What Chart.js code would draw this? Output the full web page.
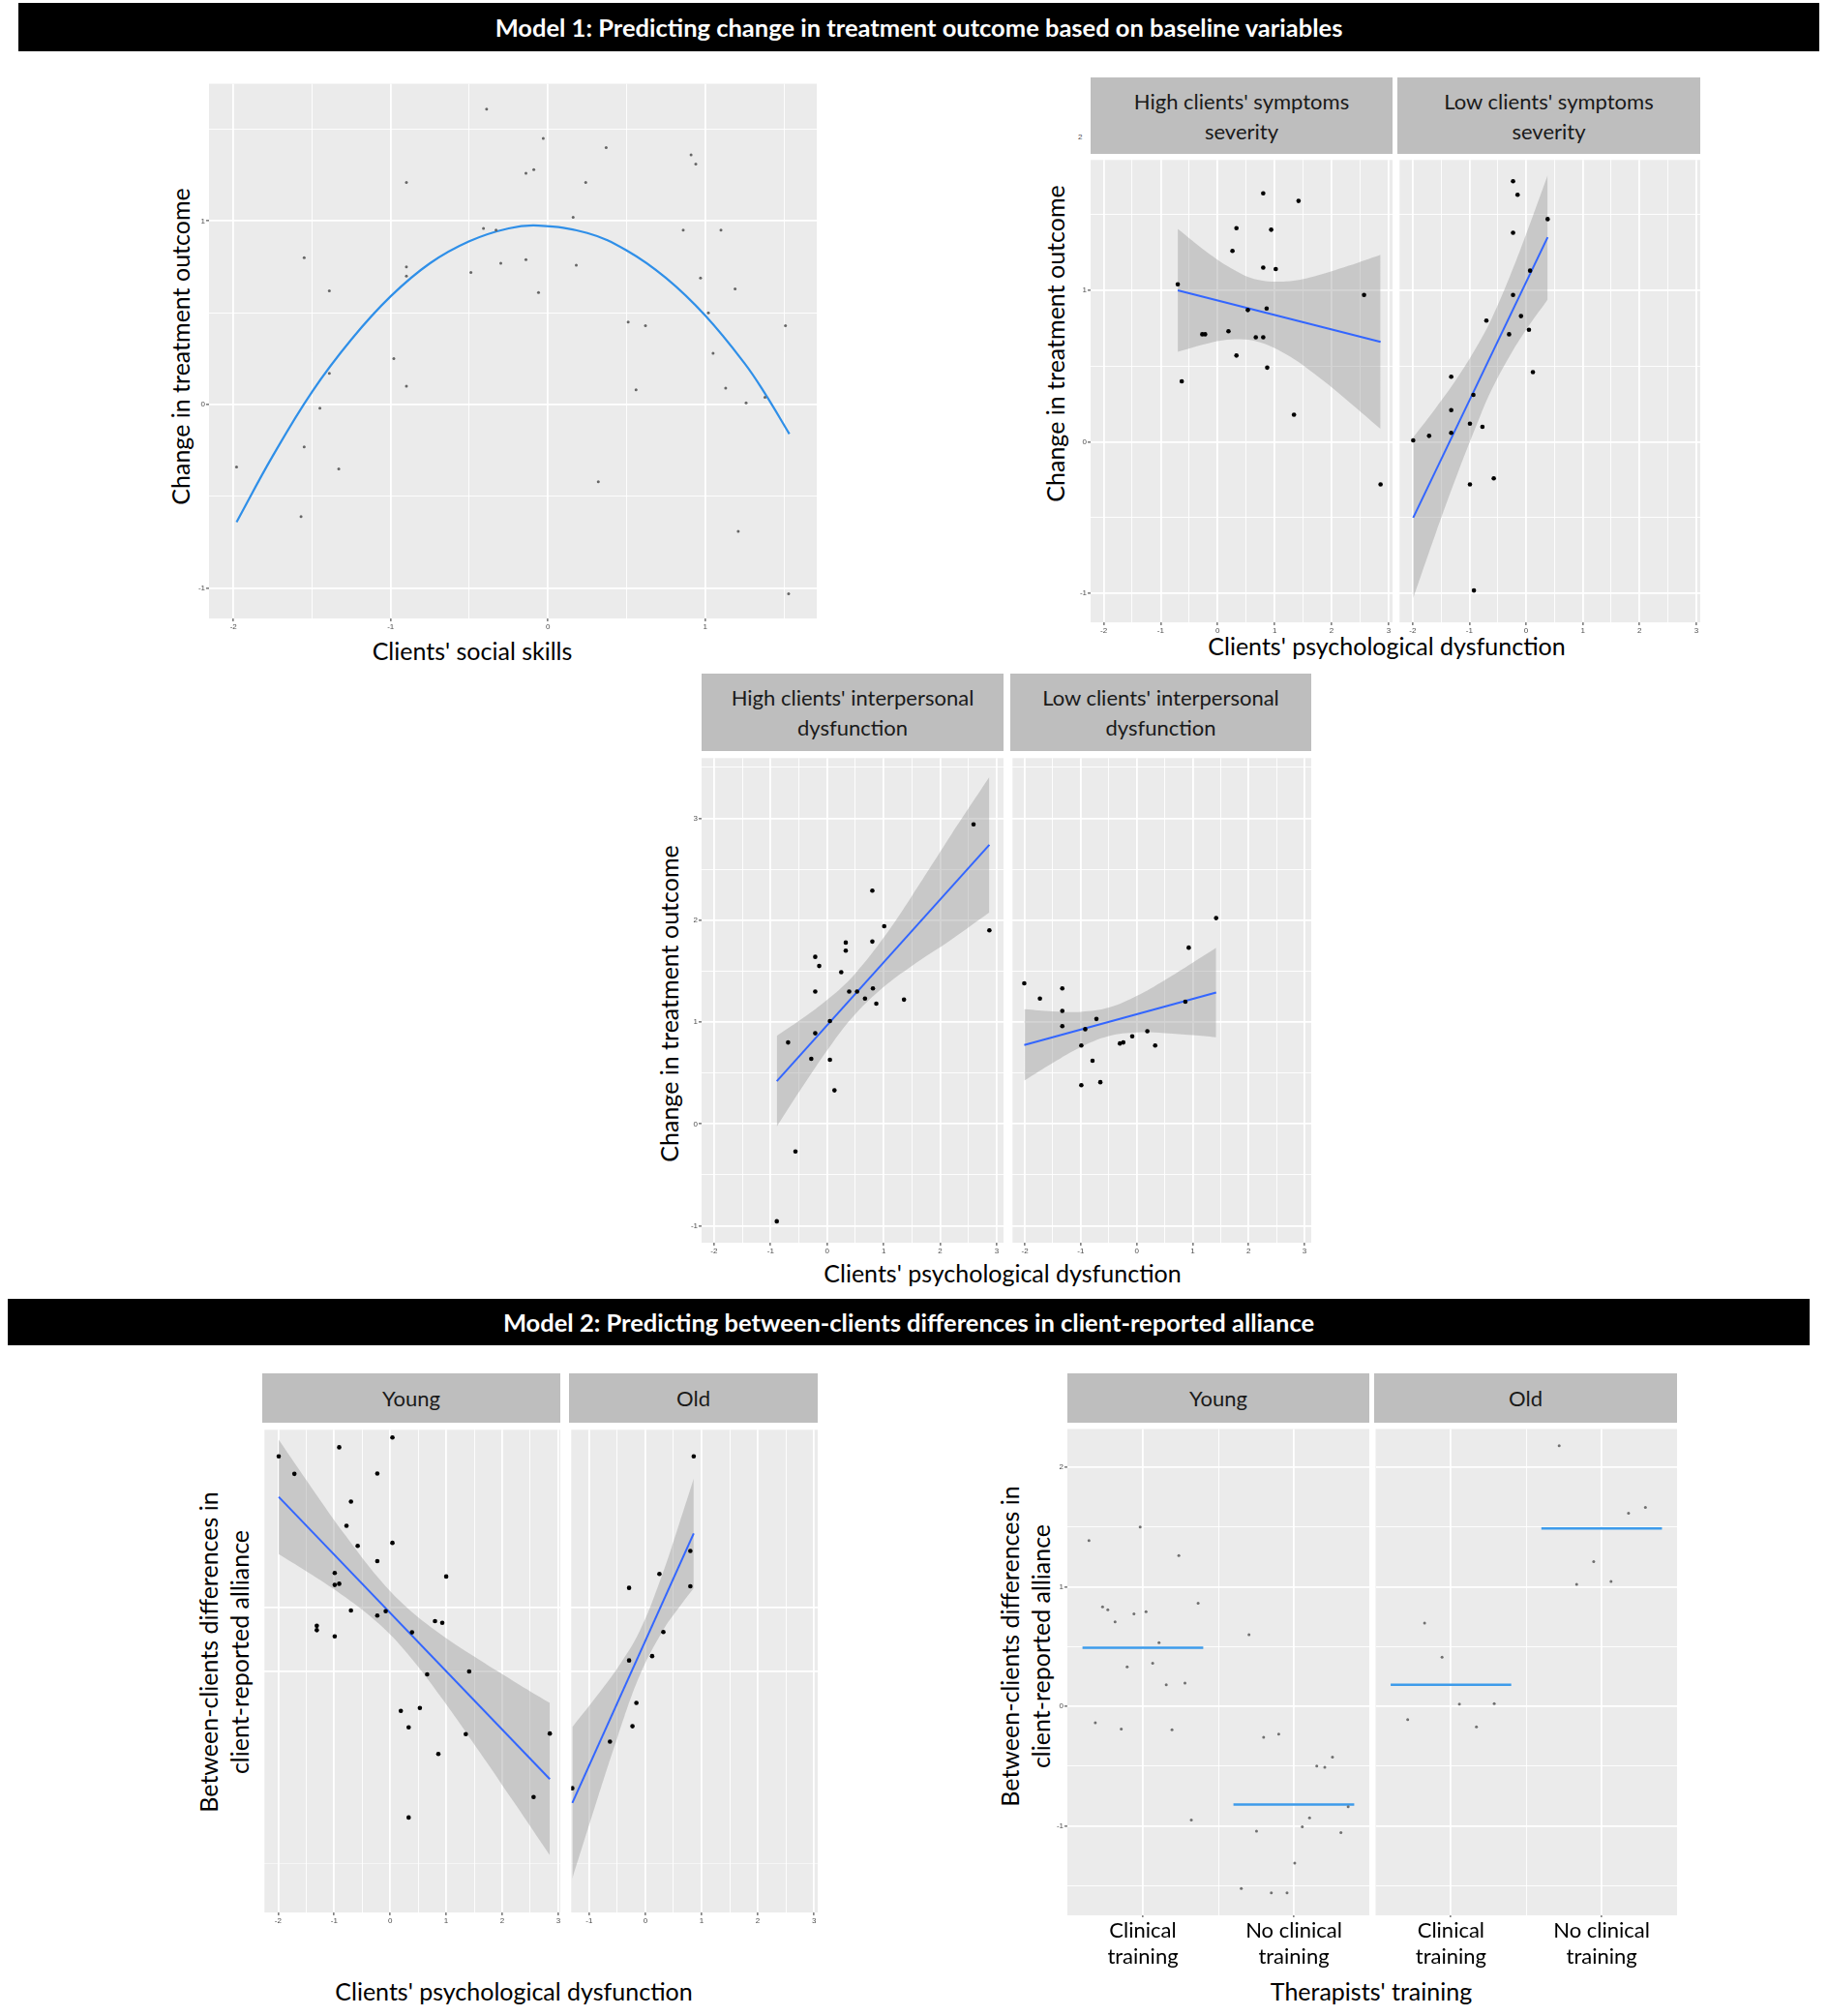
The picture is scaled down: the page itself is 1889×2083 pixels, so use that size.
<!DOCTYPE html>
<html>
<head>
<meta charset="utf-8">
<script src="https://cdn.jsdelivr.net/npm/chart.js@4.4.1/dist/chart.umd.min.js"></script>
<style>
  html,body{margin:0;padding:0;background:#ffffff;}
  body{position:relative;width:1889px;height:2083px;overflow:hidden;font-family:Lato,"Open Sans",sans-serif;color:#000;}
  .hdr{position:absolute;background:#000;color:#fff;font-weight:bold;font-size:25.5px;display:flex;align-items:center;justify-content:center;white-space:nowrap;}
  .strip{position:absolute;background:#bebebe;color:#1a1a1a;font-size:22px;line-height:31px;display:flex;align-items:center;justify-content:center;text-align:center;}
  .ttl{position:absolute;font-size:25px;line-height:32px;white-space:nowrap;text-align:center;transform:translate(-50%,-50%);}
  .ttl.rot{transform:translate(-50%,-50%) rotate(-90deg);}
  .tiny{position:absolute;font-family:"Liberation Sans",Arial,sans-serif;font-size:8px;color:#4d4d4d;}
  canvas{position:absolute;}
</style>
</head>
<body>
<div class="hdr" style="left:19px;top:3px;width:1861px;height:50px;">Model 1: Predicting change in treatment outcome based on baseline variables</div>
<div class="hdr" style="left:8px;top:1342px;width:1862px;height:48px;">Model 2: Predicting between-clients differences in client-reported alliance</div>

<div class="strip" style="left:1127px;top:80px;width:312px;height:79px;">High clients' symptoms<br>severity</div>
<div class="strip" style="left:1444px;top:80px;width:313px;height:79px;">Low clients' symptoms<br>severity</div>
<div class="strip" style="left:725px;top:696px;width:312px;height:80px;">High clients' interpersonal<br>dysfunction</div>
<div class="strip" style="left:1044px;top:696px;width:311px;height:80px;">Low clients' interpersonal<br>dysfunction</div>
<div class="strip" style="left:271px;top:1419px;width:308px;height:51px;">Young</div>
<div class="strip" style="left:588px;top:1419px;width:257px;height:51px;">Old</div>
<div class="strip" style="left:1103px;top:1419px;width:312px;height:51px;">Young</div>
<div class="strip" style="left:1420px;top:1419px;width:313px;height:51px;">Old</div>

<div class="ttl rot" style="left:186px;top:358px;">Change in treatment outcome</div>
<div class="ttl" style="left:488px;top:672px;">Clients' social skills</div>
<div class="ttl rot" style="left:1090px;top:355px;">Change in treatment outcome</div>
<div class="ttl" style="left:1433px;top:667px;">Clients' psychological dysfunction</div>
<div class="ttl rot" style="left:691px;top:1037px;">Change in treatment outcome</div>
<div class="ttl" style="left:1036px;top:1315px;">Clients' psychological dysfunction</div>
<div class="ttl rot" style="left:231px;top:1707px;">Between-clients differences in<br>client-reported alliance</div>
<div class="ttl" style="left:531px;top:2057px;">Clients' psychological dysfunction</div>
<div class="ttl rot" style="left:1059px;top:1701px;">Between-clients differences in<br>client-reported alliance</div>
<div class="ttl" style="left:1417px;top:2057px;">Therapists' training</div>
<div class="tiny" style="left:1114px;top:137px;">2</div>

<script>
// ---------------- DATA ----------------
// Panel A: social skills vs change in outcome
const aX = [-0.39,-0.03,0.37,0.91,0.94,-0.09,-0.14,-0.90,0.24,0.16,-0.41,-0.33,0.86,1.10,-1.55,-0.30,-0.14,0.18,-0.90,-0.90,-0.49,0.97,-1.39,-0.06,1.19,1.02,0.51,0.62,1.51,-0.98,1.05,-1.39,-0.90,0.56,1.13,1.26,1.38,-1.45,-1.55,-1.98,-1.33,0.32,-1.57,1.21,1.53];
const aY = [1.61,1.45,1.40,1.36,1.31,1.28,1.26,1.21,1.21,1.02,0.96,0.95,0.95,0.95,0.80,0.77,0.79,0.76,0.75,0.70,0.72,0.69,0.62,0.61,0.63,0.50,0.45,0.43,0.43,0.25,0.28,0.17,0.10,0.08,0.09,0.01,0.04,-0.02,-0.23,-0.34,-0.35,-0.42,-0.61,-0.69,-1.03];
const aFitX = [-1.98,-1.75,-1.5,-1.25,-1.0,-0.75,-0.5,-0.25,-0.06,0.25,0.5,0.75,1.0,1.25,1.38,1.535];
const aFitY = [-0.64,-0.28,0.07,0.355,0.59,0.77,0.89,0.96,0.975,0.935,0.84,0.69,0.485,0.225,0.06,-0.16];

// Panel B: psychological dysfunction by symptom severity
const b1X = [-0.70,-0.63,-0.27,-0.22,0.19,0.26,0.33,0.33,0.53,0.67,0.80,0.80,0.80,0.86,0.87,0.94,1.02,1.34,1.42,2.57,2.86];
const b1Y = [1.04,0.40,0.71,0.71,0.73,1.26,1.41,0.57,0.87,0.69,1.64,1.15,0.69,0.88,0.49,1.40,1.14,0.18,1.59,0.97,-0.28];
const b1FitX = [-0.70,2.86], b1FitY = [1.00,0.66];
const b1BandX = [-0.7,-0.2,0.3,0.7,1.2,1.7,2.3,2.86];
const b1Up = [1.405,1.256,1.133,1.071,1.059,1.093,1.162,1.235];
const b1Lo = [0.595,0.648,0.677,0.661,0.579,0.449,0.266,0.085];

const b2X = [-1.99,-1.71,-1.32,-1.32,-1.32,-0.99,-0.99,-0.93,-0.92,-0.77,-0.70,-0.57,-0.30,-0.23,-0.23,-0.23,-0.15,-0.09,0.05,0.07,0.12,0.38];
const b2Y = [0.01,0.04,0.43,0.21,0.06,0.12,-0.28,0.31,-0.98,0.10,0.80,-0.24,0.71,1.72,1.38,0.97,1.63,0.83,0.74,1.13,0.46,1.47];
const b2FitX = [-1.99,0.38], b2FitY = [-0.50,1.35];
const b2BandX = [-1.99,-1.6,-1.2,-0.8,-0.6,-0.3,0.0,0.38];
const b2Up = [0.03,0.22,0.43,0.675,0.82,1.08,1.37,1.76];
const b2Lo = [-1.03,-0.61,-0.20,0.18,0.35,0.56,0.74,0.94];

// Panel C: psychological dysfunction by interpersonal dysfunction
const c1X = [-0.89,-0.69,-0.56,-0.28,-0.21,-0.21,-0.21,-0.14,0.05,0.05,0.13,0.25,0.33,0.33,0.39,0.53,0.67,0.80,0.80,0.81,0.87,1.01,1.36,2.59,2.87];
const c1Y = [-0.955,0.80,-0.27,0.64,1.64,1.30,0.89,1.55,1.01,0.63,0.33,1.49,1.78,1.70,1.30,1.30,1.23,2.29,1.79,1.33,1.18,1.94,1.22,2.94,1.90];
const c1FitX = [-0.89,2.87], c1FitY = [0.42,2.74];
const c1BandX = [-0.89,-0.4,0.1,0.5,1.0,1.5,2.2,2.87];
const c1Up = [0.865,1.049,1.263,1.478,1.828,2.238,2.843,3.405];
const c1Lo = [-0.025,0.395,0.799,1.078,1.344,1.552,1.811,2.075];

const c2X = [-2.01,-1.73,-1.33,-1.33,-1.33,-0.99,-0.99,-0.92,-0.79,-0.72,-0.65,-0.30,-0.24,-0.08,0.19,0.33,0.87,0.93,1.42];
const c2Y = [1.38,1.23,1.33,1.11,0.96,0.77,0.38,0.93,0.62,1.03,0.41,0.79,0.80,0.86,0.91,0.77,1.20,1.73,2.02];
const c2FitX = [-2.01,1.42], c2FitY = [0.775,1.29];
const c2BandX = [-2.01,-1.5,-1.0,-0.5,0.0,0.5,1.0,1.42];
const c2Up = [1.125,1.105,1.101,1.142,1.256,1.412,1.583,1.73];
const c2Lo = [0.425,0.599,0.753,0.862,0.898,0.892,0.871,0.85];

// Panel D: alliance vs psychological dysfunction by age
const d1X = [-1.99,-1.71,-0.91,0.04,-0.23,-0.70,-0.78,-0.58,0.04,-0.23,-0.99,-0.99,-0.91,1.0,-0.70,-0.23,-0.08,-1.31,-1.31,-0.99,0.80,0.93,0.39,1.41,0.66,0.19,0.53,0.33,1.35,2.85,0.86,2.56,0.33];
const d1Y = [1.683,1.546,1.754,1.831,1.549,1.329,1.14,0.983,1.006,0.863,0.771,0.677,0.686,0.743,0.477,0.437,0.471,0.357,0.323,0.274,0.394,0.38,0.306,0.0,-0.023,-0.309,-0.286,-0.437,-0.491,-0.486,-0.646,-0.983,-1.143];
const d1FitX = [-1.99,2.85], d1FitY = [1.366,-0.843];
const d1BandX = [-1.99,-1.4,-0.8,-0.2,0.3,0.9,1.6,2.2,2.85];
const d1Up = [1.813,1.436,1.065,0.726,0.499,0.291,0.088,-0.075,-0.247];
const d1Lo = [0.919,0.758,0.581,0.372,0.143,-0.197,-0.632,-1.017,-1.439];

const d2X = [0.86,0.80,0.80,0.25,-0.29,0.32,0.12,-0.29,-0.16,-0.23,-0.63,-1.30];
const d2Y = [1.683,0.943,0.666,0.763,0.654,0.309,0.12,0.086,-0.246,-0.429,-0.549,-0.914];
const d2FitX = [-1.30,0.86], d2FitY = [-1.029,1.08];
const d2BandX = [-1.3,-0.9,-0.5,-0.1,0.3,0.6,0.86];
const d2Up = [-0.436,-0.213,0.024,0.317,0.757,1.153,1.509];
const d2Lo = [-1.622,-1.063,-0.52,-0.031,0.311,0.501,0.651];

// Panel E: alliance by therapists' training and age (x = jittered category position)
const trainingCats = [["Clinical","training"],["No clinical","training"]];
const e1X = [0.643,0.982,1.238,1.366,0.733,0.768,0.816,0.941,1.021,1.107,0.896,1.065,1.155,1.279,0.685,0.857,1.193,1.321,
             1.703,1.80,1.90,2.152,2.205,2.256,2.36,2.104,2.056,1.753,2.312,2.006,1.652,1.851,1.955];
const e1Y = [1.387,1.50,1.26,0.863,0.832,0.807,0.706,0.773,0.792,0.533,0.33,0.36,0.18,0.194,-0.139,-0.191,-0.197,-0.952,
             0.598,-0.259,-0.234,-0.50,-0.51,-0.425,-0.84,-0.934,-1.008,-1.045,-1.057,-1.313,-1.525,-1.562,-1.562];
const e1Means = [0.49,-0.823];
const e2X = [0.825,0.941,1.056,1.287,0.713,1.169, 1.718,2.29,2.178,1.947,1.834,2.062];
const e2Y = [0.696,0.41,0.018,0.022,-0.111,-0.173, 2.18,1.664,1.615,1.211,1.02,1.045];
const e2Means = [0.18,1.488];

// Tick sets
const ticksA_x = [-2,-1.5,-1,-0.5,0,0.5,1,1.5];
const ticksA_y = [-1,-0.5,0,0.5,1,1.5];
const ticksPD_x = [-2,-1.5,-1,-0.5,0,0.5,1,1.5,2,2.5,3];
const ticksB_y = [-1,-0.5,0,0.5,1,1.5];
const ticksC_y = [-1,-0.5,0,0.5,1,1.5,2,2.5,3,3.5];
const ticksD_y = [-1.5,0,0.5];
const ticksE_x = [1,1.5,2];
const ticksE_y = [-1.5,-1,-0.5,0,0.5,1,1.5,2];

// ---------------- RENDERING ----------------
const PANEL_BG = '#EBEBEB';
const BAND = 'rgba(153,153,153,0.42)';
const FIT = '#3366FF';
const bgPlugin = {id:'panelbg', beforeDraw(c){const a=c.chartArea,x=c.ctx;x.save();x.fillStyle=PANEL_BG;x.fillRect(a.left,a.top,a.right-a.left,a.bottom-a.top);x.restore();}};
const isInt = v => Math.abs(v-Math.round(v))<1e-6;
const fmtNum = v => (v<0?'-':'')+Math.abs(Math.round(v));

function scale(axis, min, max, ticks, opt){
  opt = opt || {};
  const major = opt.major || isInt;
  const labels = opt.labels !== false;
  const size = opt.size;
  return {
    type:'linear', min, max, position: axis==='x'?'bottom':'left',
    afterBuildTicks: s => { s.ticks = ticks.map(v=>({value:v})); },
    afterFit: s => {
      if(axis==='x'){ s.height=size; s.paddingLeft=0; s.paddingRight=0; }
      else { s.width=size; s.paddingTop=0; s.paddingBottom=0; }
    },
    grid:{
      color: c => (opt.faint && opt.faint(c.tick.value)) ? 'rgba(255,255,255,0.55)' : '#FFFFFF',
      lineWidth: c => major(c.tick.value) ? 1.8 : 0.9,
      drawTicks:true, tickLength: opt.tickLength || 3, tickWidth:1,
      tickColor: c => (labels && major(c.tick.value)) ? '#333333' : 'rgba(0,0,0,0)'
    },
    border:{display:false},
    ticks:{
      autoSkip:false, maxRotation:0, minRotation:0, padding: opt.padding!=null?opt.padding:1,
      color: opt.color || '#4D4D4D',
      font: opt.font || {size:8, family:'"Liberation Sans", Arial, sans-serif'},
      callback: opt.callback || (v => (labels && major(v)) ? fmtNum(v) : '')
    }
  };
}

function xy(xs, ys){ return xs.map((x,i)=>({x:x, y:ys[i]})); }
function pointsDS(xs, ys, color, r){
  return {data:xy(xs,ys), showLine:false, pointRadius:r, pointHoverRadius:r, pointBackgroundColor:color, pointBorderWidth:0, pointBorderColor:'rgba(0,0,0,0)', borderColor:'rgba(0,0,0,0)', order:0};
}
function bandDS(xs, up, lo){
  return [
    {data:xy(xs,up), borderWidth:0, borderColor:'rgba(0,0,0,0)', pointRadius:0, fill:'+1', backgroundColor:BAND, tension:0.4, order:3},
    {data:xy(xs,lo), borderWidth:0, borderColor:'rgba(0,0,0,0)', pointRadius:0, fill:false, tension:0.4, order:3}
  ];
}
function lineDS(xs, ys, color, w, t){
  return {data:xy(xs,ys), borderColor:color, borderWidth:w, pointRadius:0, fill:false, tension:t||0, order:1};
}

function facet(box, yW, xH, xs, ys, datasets){
  const padR = 6;
  const cv = document.createElement('canvas');
  const w = box[2]+yW+padR, h = box[3]+xH;
  cv.width = w; cv.height = h;
  cv.style.left = (box[0]-yW)+'px'; cv.style.top = box[1]+'px';
  cv.style.width = w+'px'; cv.style.height = h+'px';
  document.body.appendChild(cv);
  new Chart(cv, {
    type:'line',
    data:{datasets:datasets},
    options:{
      responsive:false, animation:false, events:[],
      layout:{padding:{left:0,top:0,right:padR,bottom:0}},
      plugins:{legend:{display:false}, tooltip:{enabled:false}},
      scales:{x:xs, y:ys}
    },
    plugins:[bgPlugin]
  });
}

// Panel A
facet([216,85,628,554], 18, 16,
  scale('x',-2.155,1.709,ticksA_x,{size:16}),
  scale('y',-1.165,1.748,ticksA_y,{size:18}),
  [lineDS(aFitX,aFitY,'#2F8FE8',2.2,0.4), pointsDS(aX,aY,'#666666',1.5)]);

// Panel B
facet([1127,163,312,480], 18, 16,
  scale('x',-2.23,3.07,ticksPD_x,{size:16}),
  scale('y',-1.19,1.86,ticksB_y,{size:18}),
  [...bandDS(b1BandX,b1Up,b1Lo), lineDS(b1FitX,b1FitY,FIT,2), pointsDS(b1X,b1Y,'#000000',2.3)]);
facet([1444,163,313,480], 0, 16,
  scale('x',-2.23,3.07,ticksPD_x,{size:16}),
  scale('y',-1.19,1.86,ticksB_y,{size:0,labels:false}),
  [...bandDS(b2BandX,b2Up,b2Lo), lineDS(b2FitX,b2FitY,FIT,2), pointsDS(b2X,b2Y,'#000000',2.3)]);

// Panel C
facet([725,781,312,503], 18, 16,
  scale('x',-2.22,3.12,ticksPD_x,{size:16}),
  scale('y',-1.165,3.59,ticksC_y,{size:18}),
  [...bandDS(c1BandX,c1Up,c1Lo), lineDS(c1FitX,c1FitY,FIT,2), pointsDS(c1X,c1Y,'#000000',2.3)]);
facet([1044,781,311,503], 0, 16,
  scale('x',-2.22,3.12,ticksPD_x,{size:16}),
  scale('y',-1.165,3.59,ticksC_y,{size:0,labels:false}),
  [...bandDS(c2BandX,c2Up,c2Lo), lineDS(c2FitX,c2FitY,FIT,2), pointsDS(c2X,c2Y,'#000000',2.3)]);

// Panel D
facet([271,1475,308,501], 0, 16,
  scale('x',-2.244,3.037,ticksPD_x,{size:16}),
  scale('y',-1.886,1.891,ticksD_y,{size:0,labels:false,major:v=>v>=0,faint:v=>v<0}),
  [...bandDS(d1BandX,d1Up,d1Lo), lineDS(d1FitX,d1FitY,FIT,2), pointsDS(d1X,d1Y,'#000000',2.3)]);
facet([588,1475,257,501], 0, 16,
  scale('x',-1.319,3.066,ticksPD_x,{size:16}),
  scale('y',-1.886,1.891,ticksD_y,{size:0,labels:false,major:v=>v>=0,faint:v=>v<0}),
  [...bandDS(d2BandX,d2Up,d2Lo), lineDS(d2FitX,d2FitY,FIT,2), pointsDS(d2X,d2Y,'#000000',2.3)]);

// Panel E
const HALF = 0.4;
function meanLines(means){
  return means.map((m,i)=>lineDS([i+1-HALF,i+1+HALF],[m,m],'#3D9BEA',2.6));
}
const catTick = v => isInt(v) ? trainingCats[Math.round(v)-1] : '';
const eXopt = {size:62, callback:catTick, color:'#000000', font:{size:22, family:'Lato, "Open Sans", sans-serif', lineHeight:1.2}, padding:1, tickLength:2};
facet([1103,1475,312,504], 16, 62,
  scale('x',0.5,2.5,ticksE_x,eXopt),
  scale('y',-1.75,2.32,ticksE_y,{size:16}),
  [...meanLines(e1Means), pointsDS(e1X,e1Y,'#707070',1.5)]);
facet([1420,1475,313,504], 0, 62,
  scale('x',0.5,2.5,ticksE_x,eXopt),
  scale('y',-1.75,2.32,ticksE_y,{size:0,labels:false}),
  [...meanLines(e2Means), pointsDS(e2X,e2Y,'#707070',1.5)]);
</script>
</body>
</html>
